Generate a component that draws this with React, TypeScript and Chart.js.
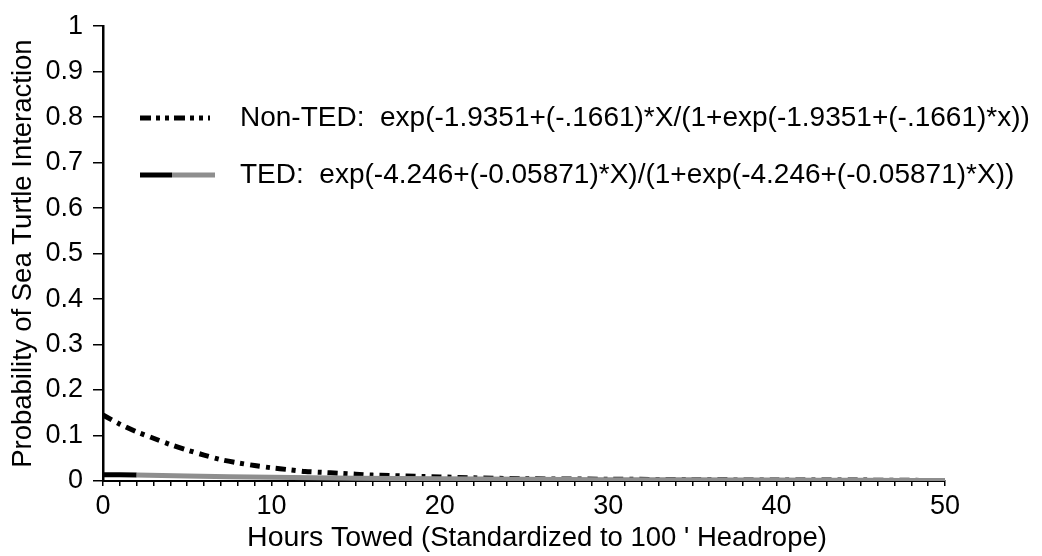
import React, { useEffect, useRef } from 'react';
import { Chart, registerables } from 'chart.js';

Chart.register(...registerables);

const FONT = '"Liberation Sans", Arial, Helvetica, sans-serif';

// Values
const nonTedHours = [0, 1, 2, 3, 4, 5, 6, 7, 8, 9, 10, 11, 12, 13, 14, 15, 16, 17, 18, 19, 20, 22, 25, 30, 35, 40, 45, 50];
const nonTedProb = [0.145, 0.125, 0.108, 0.094, 0.080, 0.068, 0.057, 0.047, 0.040, 0.034, 0.029, 0.025, 0.021, 0.019, 0.017, 0.015, 0.013, 0.012, 0.011, 0.010, 0.009, 0.007, 0.005, 0.004, 0.003, 0.002, 0.002, 0.001];

const tedHours = [0, 2, 5, 10, 15, 20, 25, 30, 35, 40, 45, 50];
const tedProb = [0.014, 0.013, 0.011, 0.008, 0.006, 0.005, 0.004, 0.003, 0.0025, 0.002, 0.0015, 0.001];

const yTickLabels = ['0', '0.1', '0.2', '0.3', '0.4', '0.5', '0.6', '0.7', '0.8', '0.9', '1'];
const xTickLabels = ['0', '10', '20', '30', '40', '50'];

const legendLabels = [
  'Non-TED:  exp(-1.9351+(-.1661)*X/(1+exp(-1.9351+(-.1661)*x))',
  'TED:  exp(-4.246+(-0.05871)*X)/(1+exp(-4.246+(-0.05871)*X))',
];
const yTitle = 'Probability of Sea Turtle Interaction';
const xTitleMain = 'Hours Towed';
const xTitleSub = " (Standardized to 100 ' Headrope)";

const TED_GRAY = '#8e8e8e';

const overlayPlugin = {
  id: 'overlay',
  afterDraw(chart: any) {
    const { ctx } = chart;
    ctx.save();
    ctx.lineCap = 'butt';
    ctx.lineWidth = 5;
    ctx.strokeStyle = '#000';
    // legend samples
    ctx.setLineDash([11, 5, 4, 5, 4, 5]);
    ctx.beginPath();
    ctx.moveTo(140, 118);
    ctx.lineTo(210, 118);
    ctx.stroke();
    ctx.setLineDash([]);
    ctx.beginPath();
    ctx.moveTo(140, 175);
    ctx.lineTo(172, 175);
    ctx.stroke();
    ctx.strokeStyle = TED_GRAY;
    ctx.beginPath();
    ctx.moveTo(172, 175);
    ctx.lineTo(215, 175);
    ctx.stroke();
    // legend text
    ctx.fillStyle = '#000';
    ctx.font = `28px ${FONT}`;
    ctx.textBaseline = 'middle';
    ctx.textAlign = 'left';
    ctx.fillText(legendLabels[0], 240, 118);
    ctx.fillText(legendLabels[1], 240, 175);
    // x-axis title (two sizes)
    const mainFont = `28.5px ${FONT}`;
    const subFont = `27.5px ${FONT}`;
    ctx.font = mainFont;
    const w1 = ctx.measureText(xTitleMain).width;
    ctx.font = subFont;
    const w2 = ctx.measureText(xTitleSub).width;
    const startX = 537 - (w1 + w2) / 2;
    ctx.textBaseline = 'alphabetic';
    ctx.font = mainFont;
    ctx.fillText(xTitleMain, startX, 546);
    ctx.font = subFont;
    ctx.fillText(xTitleSub, startX + w1, 546);
    ctx.restore();
  },
};

export default function App() {
  const ref = useRef<HTMLCanvasElement | null>(null);

  useEffect(() => {
    if (!ref.current) return;
    const chart = new Chart(ref.current, {
      type: 'line',
      data: {
        datasets: [
          {
            label: 'TED',
            data: tedHours.map((h, i) => ({ x: h, y: tedProb[i] })),
            borderColor: TED_GRAY,
            borderWidth: 5,
            pointRadius: 0,
            tension: 0.3,
            order: 0,
            segment: {
              borderColor: (c: any) => (c.p0.parsed.x < 2 ? '#000' : TED_GRAY),
            },
          },
          {
            label: 'Non-TED',
            data: nonTedHours.map((h, i) => ({ x: h, y: nonTedProb[i] })),
            borderColor: '#000',
            borderWidth: 5,
            borderDash: [10, 6, 4, 6],
            pointRadius: 0,
            tension: 0.3,
            order: 1,
          },
        ],
      },
      options: {
        animation: false,
        responsive: true,
        maintainAspectRatio: false,
        layout: { padding: { top: 21, right: 97, bottom: 0, left: 0 } },
        plugins: {
          legend: { display: false },
          tooltip: { enabled: false },
          title: { display: false },
        },
        scales: {
          x: {
            type: 'linear',
            min: 0,
            max: 50,
            afterFit: (s: any) => {
              s.height = 75;
            },
            border: { display: true, color: '#000', width: 2 },
            grid: { drawOnChartArea: false, drawTicks: true, tickLength: 5, color: '#000', lineWidth: 1.5 },
            ticks: {
              stepSize: 1,
              autoSkip: false,
              maxRotation: 0,
              padding: 4,
              color: '#000',
              font: { family: FONT, size: 27 },
              callback: (v: any) => {
                const n = Number(v);
                return n % 10 === 0 ? xTickLabels[n / 10] : '';
              },
            },
          },
          y: {
            type: 'linear',
            min: 0,
            max: 1,
            afterFit: (s: any) => {
              s.width = 103;
            },
            border: { display: true, color: '#000', width: 2.5 },
            grid: { drawOnChartArea: false, drawTicks: true, tickLength: 10, color: '#000', lineWidth: 1.5 },
            ticks: {
              stepSize: 0.1,
              padding: 10,
              color: '#000',
              font: { family: FONT, size: 27 },
              callback: (_v: any, i: number) => yTickLabels[i],
            },
            title: {
              display: true,
              text: yTitle,
              color: '#000',
              font: { family: FONT, size: 27.5 },
              padding: { top: 7, bottom: 0 },
            },
          },
        },
      },
      plugins: [overlayPlugin],
    });
    return () => chart.destroy();
  }, []);

  return (
    <div style={{ position: 'fixed', left: 0, top: 0, width: 1042, height: 556, background: '#fff' }}>
      <canvas ref={ref} />
    </div>
  );
}
